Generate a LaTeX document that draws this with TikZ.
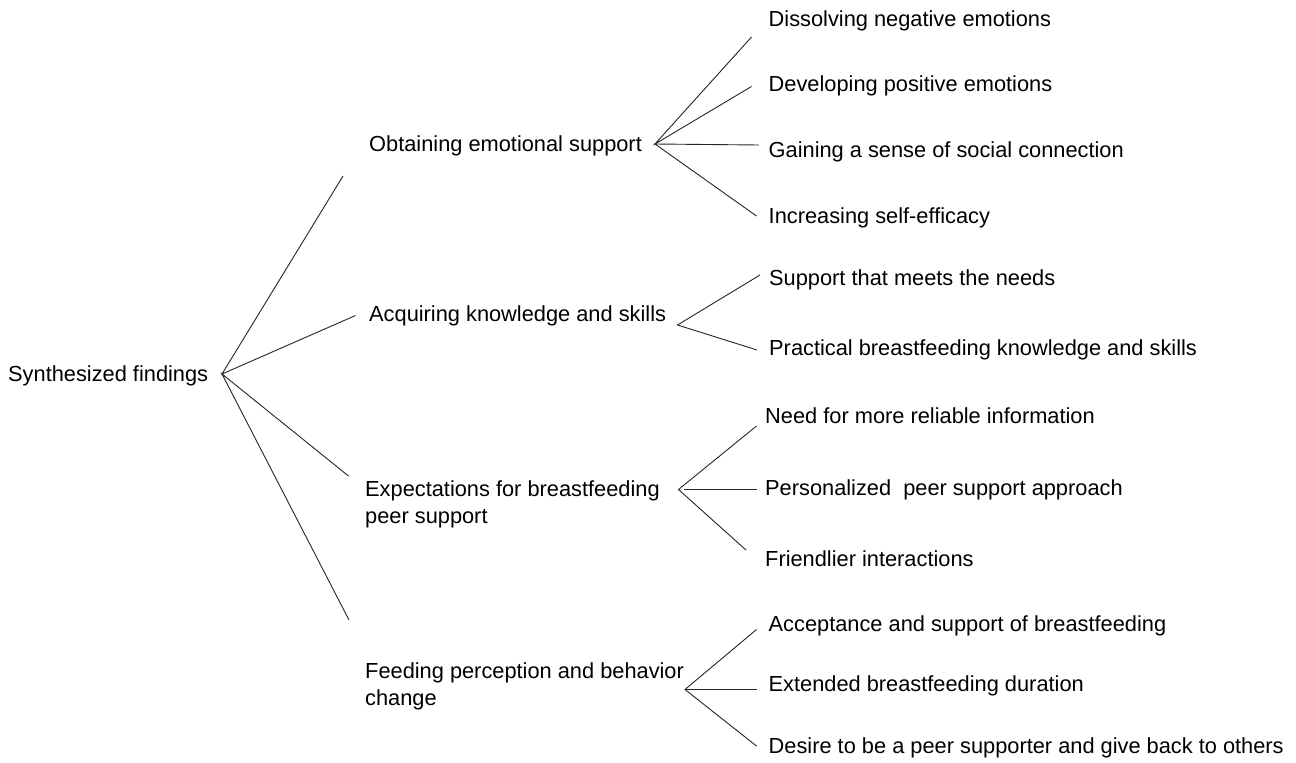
\documentclass[tikz,border=0pt]{standalone}
\usepackage{fontspec}
\setmainfont{Liberation Sans}
\begin{document}
\begin{tikzpicture}[x=1pt,y=-1pt,
  lbl/.style={anchor=base west,inner sep=0pt,align=left,font=\fontsize{21.8}{27}\selectfont},
  branch/.style={draw=black!85,line width=0.9pt}]
\useasboundingbox[fill=white] (0,0) rectangle (1296,763);
% root
\node[lbl] (root) at (8,381) {Synthesized findings};
% level 1
\node[lbl] (n1) at (369,151.5) {Obtaining emotional support};
\node[lbl] (n2) at (369,321.5) {Acquiring knowledge and skills};
\node[lbl] (n3) at (365,523.5) {Expectations for breastfeeding\\peer support};
\node[lbl] (n4) at (365,705) {Feeding perception and behavior\\change};
% level 2
\node[lbl] (a1) at (768.5,26.5) {Dissolving negative emotions};
\node[lbl] (a2) at (768.5,91) {Developing positive emotions};
\node[lbl] (a3) at (768.5,157) {Gaining a sense of social connection};
\node[lbl] (a4) at (768.5,223) {Increasing self-efficacy};
\node[lbl] (b1) at (769,285) {Support that meets the needs};
\node[lbl] (b2) at (769,355) {Practical breastfeeding knowledge and skills};
\node[lbl] (c1) at (765,423) {Need for more reliable information};
\node[lbl] (c2) at (765,495) {Personalized\ \ peer support approach};
\node[lbl] (c3) at (765,566) {Friendlier interactions};
\node[lbl] (d1) at (768.5,631.5) {Acceptance and support of breastfeeding};
\node[lbl] (d2) at (768.5,691.5) {Extended breastfeeding duration};
\node[lbl] (d3) at (768.5,753) {Desire to be a peer supporter and give back to others};
% hubs and ends
\coordinate (h0) at (222,374);
\coordinate (e1) at (343,176);
\coordinate (e2) at (355.5,315.5);
\coordinate (e3) at (348.5,476);
\coordinate (e4) at (349,620);
\coordinate (h1) at (655,144);
\coordinate (ea1) at (751.5,37);
\coordinate (ea2) at (751.5,86.5);
\coordinate (ea3) at (759,145);
\coordinate (ea4) at (756.5,216);
\coordinate (h2) at (677.5,325);
\coordinate (eb1) at (760,275);
\coordinate (eb2) at (757,350);
\coordinate (h3) at (678.5,489.5);
\coordinate (h3b) at (684,489.5);
\coordinate (ec1) at (756.5,426);
\coordinate (ec2) at (756.5,489.5);
\coordinate (ec3) at (746,550);
\coordinate (h4) at (685,689.5);
\coordinate (ed1) at (756.5,629.5);
\coordinate (ed2) at (756.5,689.5);
\coordinate (ed3) at (756.5,746);
% connectors
\draw[branch] (e1) -- (h0) -- (e2);
\draw[branch] (e3) -- (h0) -- (e4);
\draw[branch] (ea1) -- (h1) -- (ea2);
\draw[branch] (ea3) -- (h1) -- (ea4);
\draw[branch] (eb1) -- (h2) -- (eb2);
\draw[branch] (ec1) -- (h3) -- (ec3);
\draw[branch] (h3b) -- (ec2);
\draw[branch] (ed1) -- (h4) -- (ed3);
\draw[branch] (h4) -- (ed2);
\end{tikzpicture}
\end{document}
